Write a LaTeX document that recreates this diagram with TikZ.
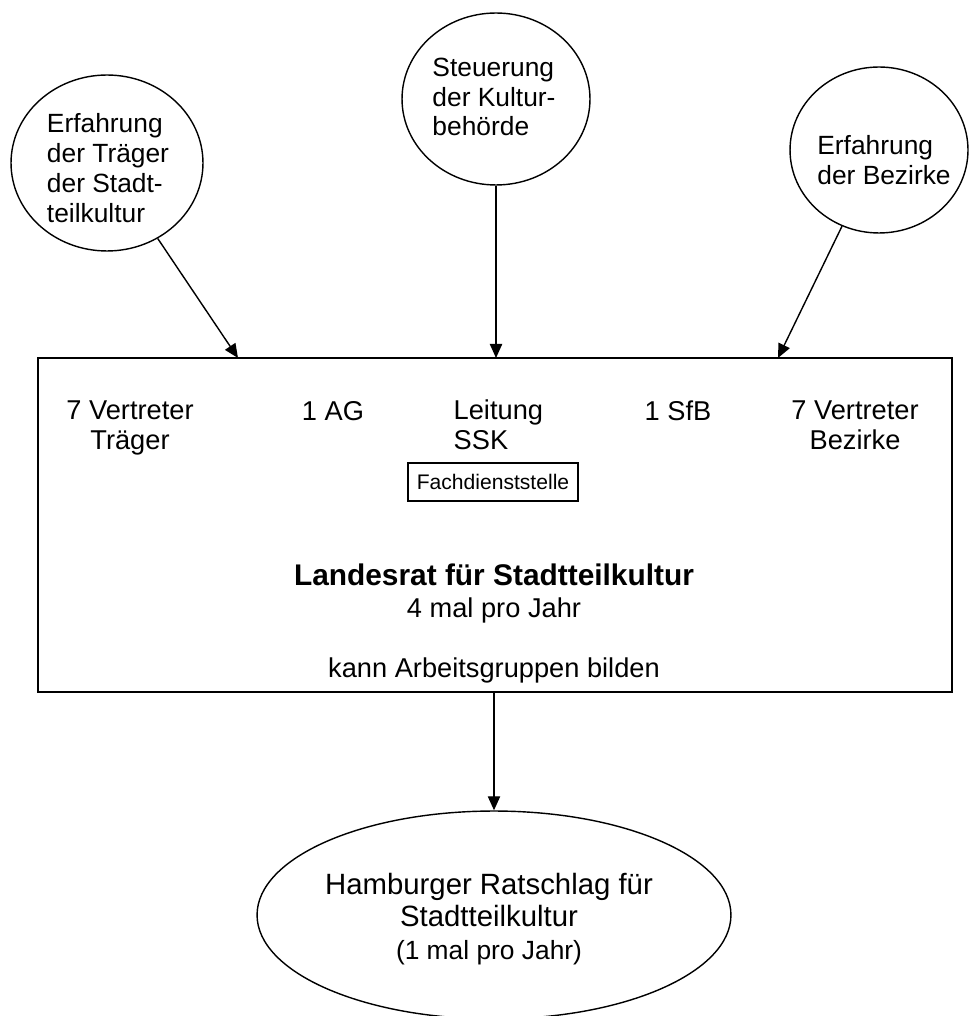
\documentclass[tikz,border=0pt]{standalone}
\usepackage{fontspec}
\setmainfont{Liberation Sans}
\usetikzlibrary{arrows.meta}
\usetikzlibrary{shapes.geometric}
\usetikzlibrary{positioning}

\begin{document}
\begin{tikzpicture}
		[x=0.02cm, y=-0.02cm, line width=0.8pt,
		 >={Triangle[length=8pt,width=7pt]},
		 blase/.style={draw, ellipse, inner sep=0pt},
		 txt/.style={inner sep=0pt, font=\fontsize{15}{17}\selectfont},
		 mtxt/.style={inner sep=0pt, font=\fontsize{15.5}{17}\selectfont}]
		\useasboundingbox (0,0) rectangle (970,1016);
		\coordinate (a) at (107,163);
		\coordinate (b) at (496,99);
		\coordinate (c) at (879,150);
		\coordinate (d) at (495,525);
		\coordinate (e) at (494,915);

		\path
		(a) node[blase, minimum width=3.84cm, minimum height=3.52cm](traeger) {}
		(b) node[blase, minimum width=3.76cm, minimum height=3.44cm](steuerung) {}
		(c) node[blase, minimum width=3.56cm, minimum height=3.32cm](bezirke) {}
		(d) node[draw, line width=1.2pt, minimum width=18.28cm, minimum height=6.68cm](rat) {}
		(e) node[blase, minimum width=9.48cm, minimum height=4.16cm](ratschlag) {};

		% texte in den blasen
		\node[txt, align=left] (ttraeger) at (108,168) {Erfahrung\\der Träger\\der Stadt-\\teilkultur};
		\node[txt, align=left] (tsteuerung) at (494,97) {Steuerung\\der Kultur-\\behörde};
		\node[txt, align=left] (tbezirke) at (884,160) {Erfahrung\\der Bezirke};
		\node[inner sep=0pt, align=center, font=\fontsize{16.7}{18.5}\selectfont] (tratschlag) at (489,919)
			{Hamburger Ratschlag für\\Stadtteilkultur\\{\fontsize{15}{18}\selectfont(1 mal pro Jahr)}};

		% mitglieder im landesrat
		\node[mtxt, align=center] (vtraeger) at (130,428) {7 Vertreter\\Träger};
		\node[mtxt, anchor=base] (ag) at (333,420) {1 AG};
		\node[mtxt, align=left, anchor=west] (leitung) at (453,425) {Leitung\\SSK};
		\node[mtxt, anchor=base] (sfb) at (678,420) {1 SfB};
		\node[mtxt, align=center] (vbezirke) at (855,425) {7 Vertreter\\ Bezirke};
		\node[draw, line width=0.6pt, minimum width=3.4cm, minimum height=0.76cm, inner sep=0pt,
			font=\fontsize{12}{14}\selectfont] (fach) at (493,482) {Fachdienststelle};
		\node[inner sep=0pt, anchor=base, font=\fontsize{17}{20}\selectfont\bfseries] (landesrat) at (494,585) {Landesrat für Stadtteilkultur};
		\node[mtxt, anchor=base] (turnus) at (494,617) {4 mal pro Jahr};
		\node[mtxt, anchor=base] (ag2) at (494,677) {kann Arbeitsgruppen bilden};

		\coordinate (t1) at (238,358);
		\coordinate (t2) at (496,358);
		\coordinate (t3) at (778,358);
		\draw[->] (traeger) -- (t1);
		\draw[->] (steuerung) -- (t2);
		\draw[->] (bezirke) -- (t3);
		\draw[->] (rat.south -| ratschlag.north) -- (ratschlag);
	\end{tikzpicture}
\end{document}
